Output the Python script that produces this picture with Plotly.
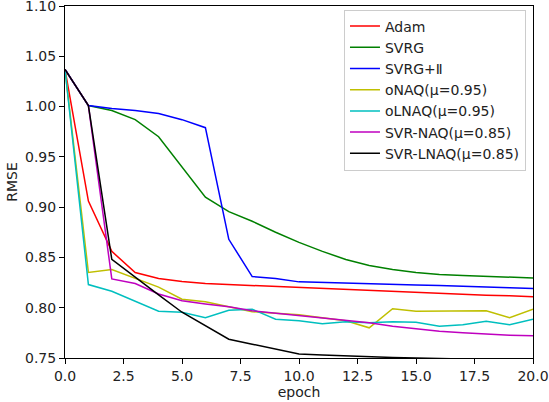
import plotly.graph_objects as go

epochs = list(range(21))

adam = [1.037, 0.906, 0.856, 0.835, 0.829, 0.826, 0.824, 0.823, 0.822, 0.821, 0.820,
        0.819, 0.818, 0.817, 0.816, 0.815, 0.814, 0.813, 0.8125, 0.812, 0.811]
svrg = [1.037, 1.001, 0.996, 0.987, 0.970, 0.940, 0.910, 0.8955, 0.886, 0.875, 0.865,
        0.856, 0.848, 0.842, 0.838, 0.835, 0.833, 0.832, 0.831, 0.8305, 0.8296]
svrg_ii = [1.037, 1.001, 0.998, 0.996, 0.993, 0.987, 0.979, 0.868, 0.831, 0.829, 0.8257,
           0.825, 0.824, 0.8235, 0.823, 0.8225, 0.822, 0.8215, 0.8205, 0.8198, 0.819]
onaq = [1.037, 0.835, 0.838, 0.829, 0.8205, 0.8085, 0.806, 0.801, 0.796, 0.7945, 0.793,
        0.790, 0.787, 0.780, 0.799, 0.7965, 0.7965, 0.7965, 0.797, 0.790, 0.7985]
olnaq = [1.037, 0.823, 0.8164, 0.8067, 0.7965, 0.7955, 0.790, 0.7975, 0.7985, 0.7885, 0.787,
         0.784, 0.786, 0.785, 0.786, 0.7855, 0.7816, 0.783, 0.7866, 0.783, 0.7886]
svr_naq = [1.037, 1.001, 0.8286, 0.824, 0.8137, 0.807, 0.8038, 0.801, 0.797, 0.7945, 0.792,
           0.790, 0.787, 0.785, 0.7816, 0.779, 0.7766, 0.775, 0.7737, 0.7727, 0.772]
svr_lnaq = [1.037, 1.001, 0.848, 0.830, 0.8127, 0.7955, 0.782, 0.7687, 0.7637, 0.7588, 0.754,
            0.753, 0.752, 0.751, 0.7505, 0.750, 0.7495, 0.749, 0.7485, 0.748, 0.7475]

series = [
    ("Adam", adam, "#ff0000"),
    ("SVRG", svrg, "#008000"),
    ("SVRG+Ⅱ", svrg_ii, "#0000ff"),
    ("oNAQ(μ=0.95)", onaq, "#bfbf00"),
    ("oLNAQ(μ=0.95)", olnaq, "#00bfbf"),
    ("SVR-NAQ(μ=0.85)", svr_naq, "#bf00bf"),
    ("SVR-LNAQ(μ=0.85)", svr_lnaq, "#000000"),
]

xticks = [0, 2.5, 5, 7.5, 10, 12.5, 15, 17.5, 20]
yticks = [0.75, 0.80, 0.85, 0.90, 0.95, 1.00, 1.05, 1.10]

fig = go.Figure()
for name, vals, col in series:
    fig.add_trace(go.Scatter(x=epochs, y=vals, mode="lines", name=name,
                             line=dict(color=col, width=1.5)))

font = "DejaVu Sans"
axis_common = dict(showline=True, linecolor="black", linewidth=1, mirror=True,
                   ticks="outside", ticklen=5, tickcolor="black", showgrid=False,
                   zeroline=False, automargin=False, ticklabeloverflow="allow",
                   tickfont=dict(family=font, size=14, color="#222222"))

fig.update_layout(
    width=549, height=402,
    margin=dict(l=65, r=16, t=6, b=44),
    paper_bgcolor="white", plot_bgcolor="white",
    font=dict(family=font, size=14, color="#222222"),
    xaxis=dict(range=[0, 20], tickvals=xticks, ticktext=[f"{t:.1f}" for t in xticks],
               title=dict(text="epoch", font=dict(family=font, size=14), standoff=2),
               **axis_common),
    yaxis=dict(range=[0.75, 1.10], tickvals=yticks, ticktext=[f"{t:.2f}" for t in yticks],
               title=dict(text="RMSE", font=dict(family=font, size=14), standoff=4),
               **axis_common),
    legend=dict(x=0.985, xanchor="right", y=0.99, yanchor="top",
                bordercolor="#cccccc", borderwidth=1, bgcolor="rgba(255,255,255,0.8)",
                font=dict(family=font, size=14), tracegroupgap=0),
    showlegend=True,
)

fig.write_html("out.html", config={"displayModeBar": False},
               post_script="document.body.style.margin='0px';document.body.style.overflow='hidden';")
